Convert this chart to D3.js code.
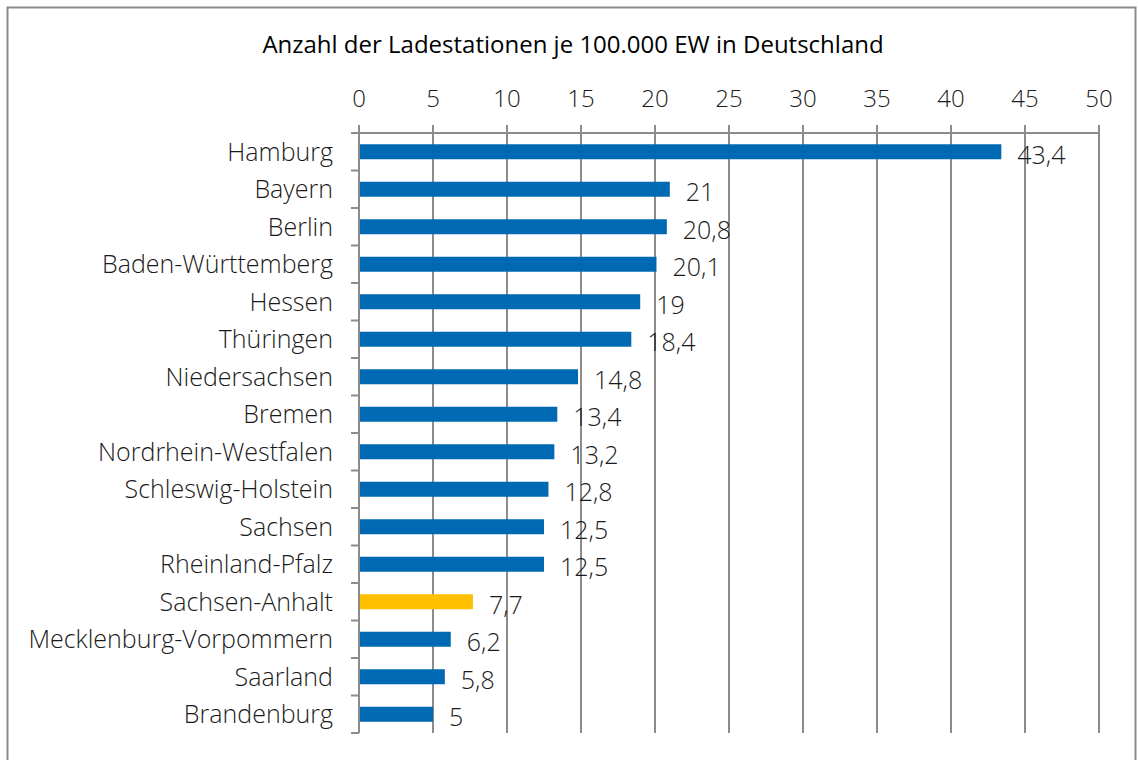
<!DOCTYPE html>
<html>
<head>
<meta charset="utf-8">
<title>Ladestationen je 100.000 EW</title>
<script src="https://d3js.org/d3.v7.min.js"></script>
<style>
  body { margin: 0; background: #fff; }
  text { font-family: "Open Sans", Lato, sans-serif; font-weight: 300; fill: #1a1a1a; }
  .title { font-weight: 400; fill: #000; }
</style>
</head>
<body>
<div id="chart"></div>
<script>
// data
var laender = ["Hamburg", "Bayern", "Berlin", "Baden-Württemberg", "Hessen", "Thüringen",
  "Niedersachsen", "Bremen", "Nordrhein-Westfalen", "Schleswig-Holstein", "Sachsen",
  "Rheinland-Pfalz", "Sachsen-Anhalt", "Mecklenburg-Vorpommern", "Saarland", "Brandenburg"];
var werte = [43.4, 21, 20.8, 20.1, 19, 18.4, 14.8, 13.4, 13.2, 12.8, 12.5, 12.5, 7.7, 6.2, 5.8, 5];
var labels = ["43,4", "21", "20,8", "20,1", "19", "18,4", "14,8", "13,4", "13,2", "12,8", "12,5", "12,5", "7,7", "6,2", "5,8", "5"];
var xTicks = [0, 5, 10, 15, 20, 25, 30, 35, 40, 45, 50];
var highlight = "Sachsen-Anhalt";

var W = 1138, H = 760;
var margin = {top: 133, right: 39, bottom: 27, left: 359};
var width = W - margin.left - margin.right,
    height = H - margin.top - margin.bottom;

var svg = d3.select("#chart").append("svg")
  .attr("width", W).attr("height", H);

// chart border
svg.append("rect")
  .attr("x", 7.5).attr("y", 7.5)
  .attr("width", 1128).attr("height", 760)
  .attr("fill", "none").attr("stroke", "#8c8c8c").attr("stroke-width", 2);

svg.append("text")
  .attr("class", "title")
  .attr("x", 573).attr("y", 53)
  .attr("text-anchor", "middle")
  .style("font-size", "24px")
  .text("Anzahl der Ladestationen je 100.000 EW in Deutschland");

var g = svg.append("g").attr("transform", "translate(" + margin.left + "," + margin.top + ")");

var x = d3.scaleLinear().domain([0, 50]).range([0, width]);
var y = d3.scaleBand().domain(laender).range([0, height]).paddingInner(0.6).paddingOuter(0.3);

// vertical gridlines
g.selectAll(".grid").data(xTicks).enter().append("line")
  .attr("x1", function(d) { return x(d); }).attr("x2", function(d) { return x(d); })
  .attr("y1", -8).attr("y2", height)
  .attr("stroke", "#8c8c8c").attr("stroke-width", 2);

// top axis line
g.append("line")
  .attr("x1", -8).attr("x2", width).attr("y1", 0).attr("y2", 0)
  .attr("stroke", "#8c8c8c").attr("stroke-width", 2);

// category boundary ticks on the left
var step = height / laender.length;
g.selectAll(".ytick").data(d3.range(laender.length + 1)).enter().append("line")
  .attr("x1", -8).attr("x2", 0)
  .attr("y1", function(i) { return i * step; }).attr("y2", function(i) { return i * step; })
  .attr("stroke", "#8c8c8c").attr("stroke-width", 2);

// tick labels
g.selectAll(".xlab").data(xTicks).enter().append("text")
  .attr("x", function(d) { return x(d); }).attr("y", -26)
  .attr("text-anchor", "middle")
  .style("font-size", "24px")
  .text(function(d) { return d; });

g.selectAll(".ylab").data(laender).enter().append("text")
  .attr("x", -26)
  .attr("y", function(d) { return y(d) + y.bandwidth() / 2; })
  .attr("dy", "0.35em")
  .attr("text-anchor", "end")
  .style("font-size", "25px")
  .text(function(d) { return d; });

// bars
g.selectAll(".bar").data(laender).enter().append("rect")
  .attr("x", x(0) + 1)
  .attr("y", function(d) { return y(d); })
  .attr("width", function(d, i) { return x(werte[i]) - 1; })
  .attr("height", y.bandwidth())
  .attr("fill", function(d) { return d === highlight ? "#ffc000" : "#0069b4"; });

// value labels
g.selectAll(".val").data(laender).enter().append("text")
  .attr("x", function(d, i) { return x(werte[i]) + 16; })
  .attr("y", function(d) { return y(d) + y.bandwidth() / 2 + 3; })
  .attr("dy", "0.35em")
  .style("font-size", "25px")
  .text(function(d, i) { return labels[i]; });
</script>
</body>
</html>
